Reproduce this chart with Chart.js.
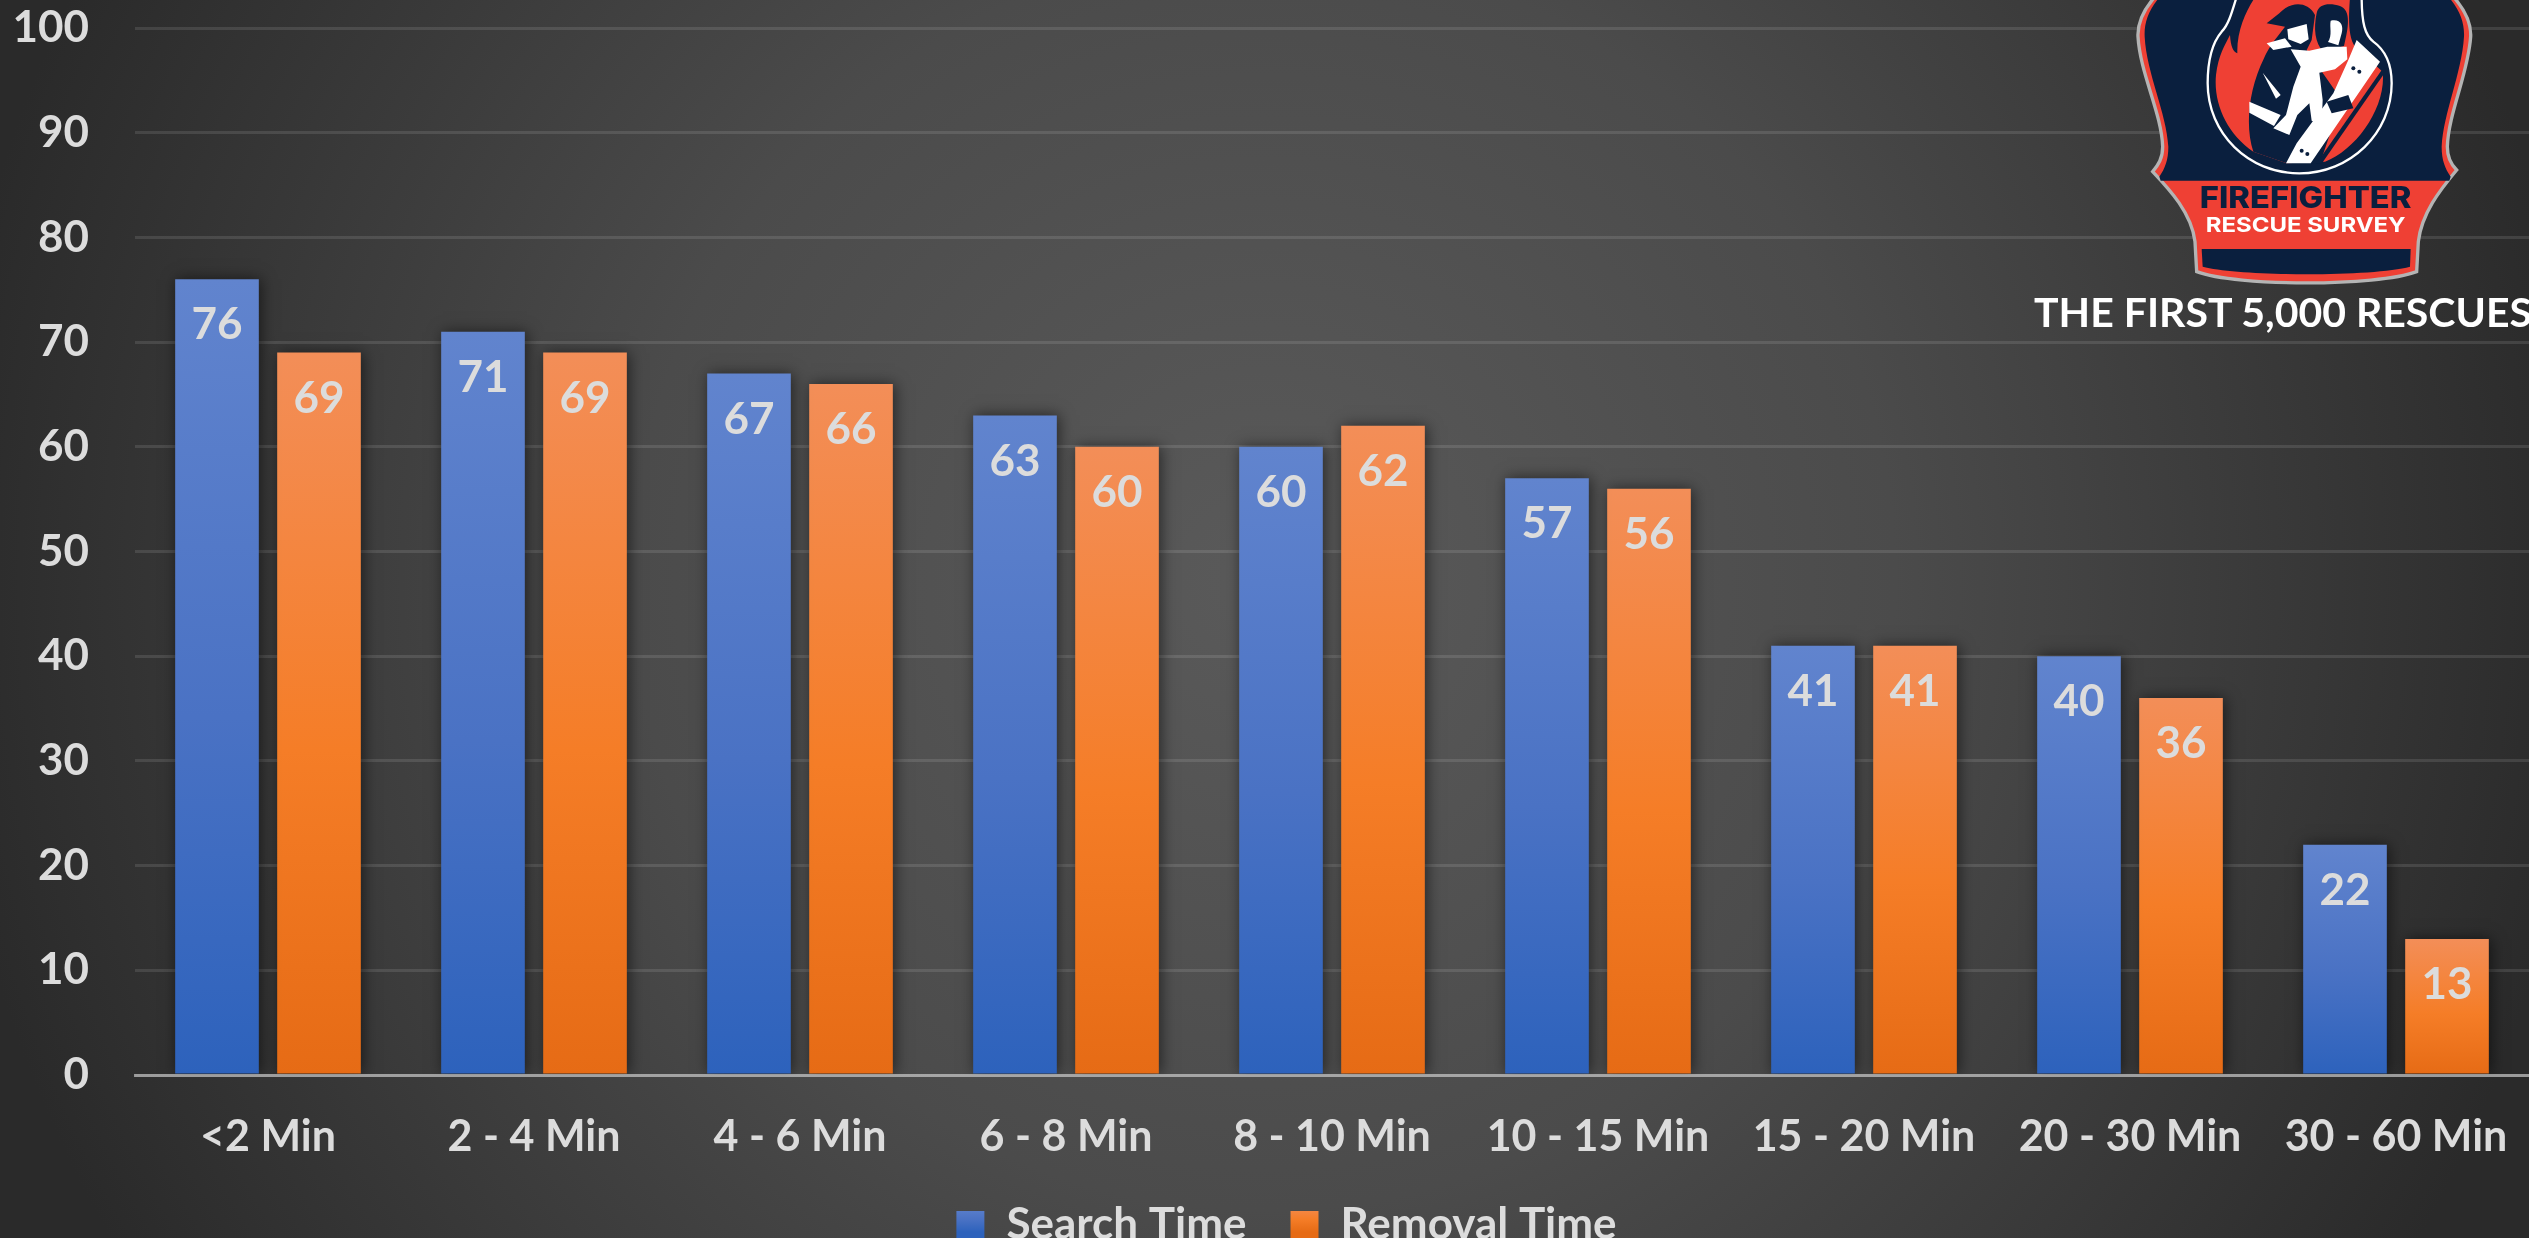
<!DOCTYPE html>
<html>
<head>
<meta charset="utf-8">
<title>Search and removal time</title>
<script src="https://cdn.jsdelivr.net/npm/chart.js@4"></script>
<style>
  html, body { margin: 0; padding: 0; width: 2529px; height: 1238px; overflow: hidden; }
  body { background: radial-gradient(ellipse 1400px 1400px at 1265px 580px, #5a5a5a 0%, #4b4b4b 45%, #2a2a2a 95%); }
  #c { position: absolute; left: 0; top: 0; }
  #logo { position: absolute; left: 0; top: 0; }
</style>
</head>
<body>
<canvas id="c" width="2529" height="1238"></canvas>

<svg id="logo" width="2529" height="1238" viewBox="0 0 2529 1238">
  <g transform="translate(2040,0) scale(0.33333)">
    <path d="M345 -10 C310 30 292 70 294 110 C300 220 365 340 368 440 C368 475 355 495 338 515 C390 570 455 640 465 725 L470 815 C590 860 1010 860 1130 815 L1135 725 C1145 640 1200 570 1250 510 C1235 495 1222 475 1222 440 C1225 340 1285 220 1292 110 C1294 70 1275 30 1240 -10 Z" fill="#ef4034" stroke="#b4b4b4" stroke-width="10"/>
    <path d="M360 -10 C325 30 312 70 314 110 C320 220 380 340 385 440 C385 480 375 505 358 530 L362 542 L1228 542 L1232 530 C1215 505 1205 480 1205 440 C1210 340 1265 220 1272 110 C1274 70 1260 30 1225 -10 Z" fill="#0a1f3e"/>
    <path d="M485 747 L1112 747 L1110 800 C1000 830 600 830 488 800 Z" fill="#0a1f3e"/>
    <path d="M590 -10 C575 40 565 75 545 95 C515 130 503 190 503 250 C503 400 625 520 778 520 C930 520 1055 400 1055 250 C1055 190 1035 150 1000 125 C975 105 965 70 965 -10" fill="#0a1f3e" stroke="#ffffff" stroke-width="7"/>
    <path d="M640 455 C560 400 520 310 528 225 C535 165 555 135 570 105 C572 140 580 155 592 160 C590 90 620 30 645 -8 L930 -8 C925 60 925 110 945 140 L1028 215 C1040 320 950 450 855 485 L740 490 Z" fill="#ef4034"/>
    <path d="M640 455 C615 380 625 270 672 175 C682 150 700 125 712 110 L735 80 L680 70 L718 40 C745 8 800 -2 825 45 L815 120 L800 150 L905 300 L840 490 L740 490 Z" fill="#0a1f3e"/>
    <path d="M742 88 L800 72 L806 118 L782 132 L745 118 Z" fill="#ffffff"/>
    <path d="M680 130 L735 115 L755 140 L700 150 Z" fill="#ffffff"/>
    <path d="M950 120 L1020 185 L812 490 L738 490 L770 430 L880 280 L925 180 Z" fill="#ffffff"/>
    <path d="M846 490 L1040 210 L1032 200 L830 490 Z" fill="#0a1f3e"/>
    <path d="M830 40 C835 10 870 8 900 18 C935 30 925 85 912 138 L850 155 C825 130 820 85 830 40 Z" fill="#0a1f3e"/>
    <path d="M872 62 C900 55 912 75 905 100 L895 136 L864 126 C878 105 868 82 872 62 Z" fill="#ffffff"/>
    <path d="M752 148 L808 152 L862 140 L920 140 L922 178 L885 208 L838 218 L848 300 L845 372 L815 362 L808 310 L772 345 L748 405 L700 385 L738 345 L760 260 L782 200 Z" fill="#ffffff"/>
    <path d="M668 218 L722 285 L708 296 Z M628 305 L722 345 L702 378 L628 338 Z" fill="#ffffff"/>
    <path d="M860 305 L925 285 L940 325 L875 340 Z" fill="#0a1f3e"/>
    <circle cx="940" cy="205" r="6" fill="#0a1f3e"/><circle cx="958" cy="215" r="6" fill="#0a1f3e"/>
    <circle cx="785" cy="452" r="6" fill="#0a1f3e"/><circle cx="802" cy="462" r="6" fill="#0a1f3e"/>
    <text x="797" y="625" text-anchor="middle" font-family="Inter, 'DejaVu Sans'" font-weight="800" font-size="88" textLength="635" lengthAdjust="spacingAndGlyphs" fill="#0a1f3e">FIREFIGHTER</text>
    <text x="797" y="696" text-anchor="middle" font-family="Inter, 'DejaVu Sans'" font-weight="700" font-size="62" textLength="600" lengthAdjust="spacingAndGlyphs" fill="#ffffff">RESCUE SURVEY</text>
  </g>
  <text x="2034" y="327" font-family="Lato" font-weight="700" font-size="41" fill="#ffffff">THE FIRST 5,000 RESCUES</text>
</svg>

<script>
const categories = ["<2 Min", "2 - 4 Min", "4 - 6 Min", "6 - 8 Min", "8 - 10 Min", "10 - 15 Min", "15 - 20 Min", "20 - 30 Min", "30 - 60 Min"];
const searchTime = [76, 71, 67, 63, 60, 57, 41, 40, 22];
const removalTime = [69, 69, 66, 60, 62, 56, 41, 36, 13];
const seriesNames = ["Search Time", "Removal Time"];

const blueStops = [[0, "#6184ce"], [0.55, "#4a72c4"], [1, "#2d62bc"]];
const orangeStops = [[0, "#f38e58"], [0.55, "#f57d27"], [1, "#e66b15"]];
const textColor = "#dcdcdc";
const fontFamily = "Lato";

function makeGrad(ctx, top, bottom, stops) {
  const g = ctx.createLinearGradient(0, top, 0, bottom);
  stops.forEach(s => g.addColorStop(s[0], s[1]));
  return g;
}

function barFill(stops) {
  return function (context) {
    const chart = context.chart;
    if (!chart.chartArea || context.parsed === undefined) return stops[0][1];
    const y = chart.scales.y;
    return makeGrad(chart.ctx, y.getPixelForValue(context.parsed.y), y.getPixelForValue(0), stops);
  };
}

// shadow behind the bars and the value inside the top of each one
const barExtras = {
  id: "barExtras",
  afterLayout(chart) {
    // legend sits a bit right of the canvas centre
    chart.legend.left += 44;
  },
  beforeDatasetsDraw(chart) {
    const ctx = chart.ctx;
    ctx.save();
    ctx.shadowColor = "rgba(0,0,0,0.55)";
    ctx.shadowBlur = 14;
    ctx.shadowOffsetX = 2;
  },
  afterDatasetsDraw(chart) {
    const ctx = chart.ctx;
    ctx.restore();
    ctx.save();
    ctx.font = "700 44px " + fontFamily;
    ctx.fillStyle = textColor;
    ctx.textAlign = "center";
    ctx.textBaseline = "middle";
    chart.data.datasets.forEach((ds, i) => {
      chart.getDatasetMeta(i).data.forEach((bar, k) => {
        ctx.fillText(ds.data[k], bar.x, bar.y + 46);
      });
    });
    ctx.restore();
  }
};

const canvas = document.getElementById("c");

new Chart(canvas, {
  type: "bar",
  data: {
    labels: categories,
    datasets: [
      { label: seriesNames[0], data: searchTime, backgroundColor: barFill(blueStops) },
      { label: seriesNames[1], data: removalTime, backgroundColor: barFill(orangeStops) }
    ]
  },
  options: {
    responsive: false,
    animation: false,
    categoryPercentage: 0.767,
    barPercentage: 0.82,
    layout: { padding: { top: 28, right: 0, bottom: -19, left: 0 } },
    scales: {
      x: {
        afterFit(scale) { scale.height = 84; },
        // transparent tick marks push the labels down, tick padding would narrow the plot
        grid: { color: "transparent", drawOnChartArea: false, tickLength: 36, tickColor: "transparent" },
        border: { color: "rgba(205,205,205,0.65)", width: 3, z: 1 },
        ticks: { color: textColor, padding: 0, maxRotation: 0, autoSkip: false, font: { family: fontFamily, weight: "700", size: 43 } }
      },
      y: {
        min: 0,
        max: 100,
        afterFit(scale) { scale.width = 135; },
        grid: { color: "rgba(255,255,255,0.11)", lineWidth: 3, tickLength: 46, tickColor: "transparent" },
        border: { display: false },
        ticks: { stepSize: 10, color: textColor, padding: 0, font: { family: fontFamily, weight: "700", size: 44 } }
      }
    },
    plugins: {
      tooltip: { enabled: false },
      legend: {
        position: "bottom",
        labels: {
          color: textColor,
          boxWidth: 28,
          boxHeight: 28,
          padding: 44,
          font: { family: fontFamily, weight: "700", size: 44 },
          generateLabels(chart) {
            return [blueStops, orangeStops].map((stops, i) => ({
              text: seriesNames[i],
              fillStyle: makeGrad(chart.ctx, 1204, 1232, stops),
              strokeStyle: "transparent",
              lineWidth: 0,
              fontColor: textColor,
              datasetIndex: i
            }));
          }
        }
      }
    }
  },
  plugins: [barExtras]
});
</script>
</body>
</html>
